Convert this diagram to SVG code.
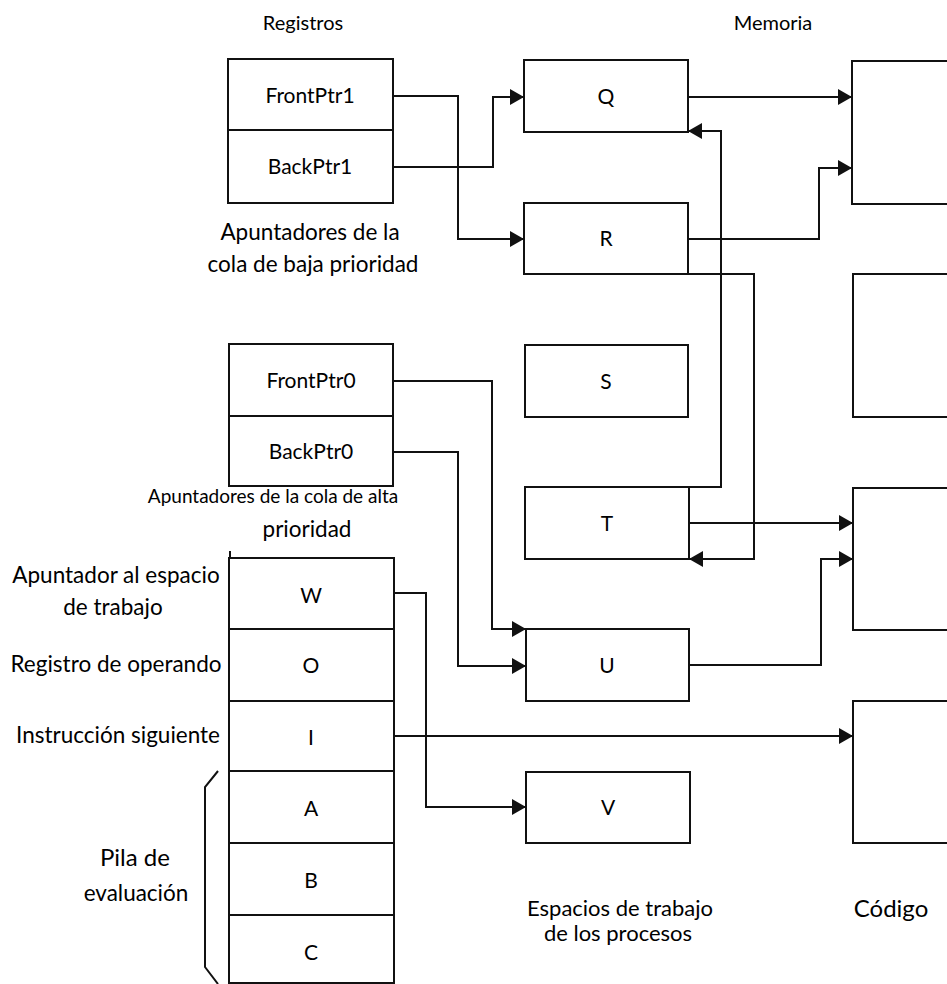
<svg xmlns="http://www.w3.org/2000/svg" width="947" height="984" viewBox="0 0 947 984">
  <style>
    .box { fill: #ffffff; stroke: #111111; stroke-width: 2; }
    .sep { stroke: #111111; stroke-width: 2; fill: none; }
    .wire { stroke: #111111; stroke-width: 2; fill: none; }
    .title { font-family: Lato, "Liberation Sans", sans-serif; font-size: 20px; fill: #000000; text-anchor: middle; }
    .lbl { font-family: Lato, "Liberation Sans", sans-serif; font-size: 22.5px; fill: #000000; text-anchor: middle; }
    .cell { font-family: Lato, "Liberation Sans", sans-serif; font-size: 21px; fill: #000000; text-anchor: middle; }
  </style>
  <defs>
    <marker id="arrow" viewBox="0 0 14 16" refX="14" refY="8" markerWidth="14" markerHeight="16" markerUnits="userSpaceOnUse" orient="auto">
      <path d="M0,0 L14,8 L0,16 Z" fill="#111111"/>
    </marker>
  </defs>

  <rect width="947" height="984" fill="#ffffff"/>

  <!-- column titles -->
  <text class="title" x="303" y="30">Registros</text>
  <text class="title" x="773" y="30">Memoria</text>

  <!-- low-priority queue pointer registers -->
  <g id="reg-low">
    <rect class="box" x="228" y="59" width="165" height="144"/>
    <line class="sep" x1="228" y1="130" x2="393" y2="130"/>
    <text class="cell" x="310" y="103">FrontPtr1</text>
    <text class="cell" x="310" y="174">BackPtr1</text>
    <text class="lbl" x="310" y="240">Apuntadores de la</text>
    <text class="lbl" x="313" y="272">cola de baja prioridad</text>
  </g>

  <!-- high-priority queue pointer registers -->
  <g id="reg-high">
    <rect class="box" x="229" y="344" width="164" height="142"/>
    <line class="sep" x1="229" y1="416" x2="393" y2="416"/>
    <text class="cell" x="311" y="388">FrontPtr0</text>
    <text class="cell" x="311" y="459">BackPtr0</text>
    <text class="lbl" x="273" y="503" style="font-size:19px">Apuntadores de la cola de alta</text>
    <text class="lbl" x="307" y="537">prioridad</text>
  </g>

  <!-- process registers and evaluation stack -->
  <g id="reg-process">
    <line class="sep" x1="230" y1="551" x2="230" y2="558"/>
    <rect class="box" x="229" y="558" width="165" height="425"/>
    <line class="sep" x1="229" y1="629" x2="394" y2="629"/>
    <line class="sep" x1="229" y1="701" x2="394" y2="701"/>
    <line class="sep" x1="229" y1="771" x2="394" y2="771"/>
    <line class="sep" x1="229" y1="843" x2="394" y2="843"/>
    <line class="sep" x1="229" y1="915" x2="394" y2="915"/>
    <text class="cell" x="311" y="603">W</text>
    <text class="cell" x="311" y="673">O</text>
    <text class="cell" x="311" y="745">I</text>
    <text class="cell" x="311" y="816">A</text>
    <text class="cell" x="311" y="888">B</text>
    <text class="cell" x="311" y="960">C</text>
    <text class="lbl" x="116" y="583">Apuntador al espacio</text>
    <text class="lbl" x="113" y="615">de trabajo</text>
    <text class="lbl" x="116" y="672">Registro de operando</text>
    <text class="lbl" x="118" y="743">Instrucción siguiente</text>
    <path class="sep" d="M218,771 L205,787 V967 L218,984"/>
    <text class="lbl" x="135" y="866" style="font-size:24px">Pila de</text>
    <text class="lbl" x="136" y="901">evaluación</text>
  </g>

  <!-- process workspaces -->
  <g id="ws-Q"><rect class="box" x="524" y="60" width="164" height="72"/><text class="cell" x="606" y="104">Q</text></g>
  <g id="ws-R"><rect class="box" x="524" y="203" width="164" height="71"/><text class="cell" x="606" y="246">R</text></g>
  <g id="ws-S"><rect class="box" x="525" y="345" width="163" height="72"/><text class="cell" x="606" y="389">S</text></g>
  <g id="ws-T"><rect class="box" x="525" y="487" width="164" height="72"/><text class="cell" x="607" y="531">T</text></g>
  <g id="ws-U"><rect class="box" x="526" y="629" width="163" height="72"/><text class="cell" x="607" y="673">U</text></g>
  <g id="ws-V"><rect class="box" x="526" y="772" width="164" height="71"/><text class="cell" x="608" y="815">V</text></g>
  <text class="lbl" x="620" y="916" style="font-size:22px">Espacios de trabajo</text>
  <text class="lbl" x="618" y="941" style="font-size:22px">de los procesos</text>

  <!-- code segments -->
  <g id="code-1"><rect class="box" x="852" y="61" width="110" height="143"/></g>
  <g id="code-2"><rect class="box" x="853" y="274" width="110" height="143"/></g>
  <g id="code-3"><rect class="box" x="853" y="488" width="110" height="142"/></g>
  <g id="code-4"><rect class="box" x="853" y="701" width="110" height="142"/></g>
  <text class="lbl" x="891" y="917" style="font-size:24px">Código</text>

  <!-- pointer links -->
  <g id="connectors">
    <path class="wire" d="M393,96 H458 V239 H524" marker-end="url(#arrow)"/>
    <path class="wire" d="M393,167 H493 V97 H524" marker-end="url(#arrow)"/>
    <path class="wire" d="M688,97 H852" marker-end="url(#arrow)"/>
    <path class="wire" d="M688,239 H819 V168 H852" marker-end="url(#arrow)"/>
    <path class="wire" d="M688,274 H754 V559 H689" marker-end="url(#arrow)"/>
    <path class="wire" d="M689,487 H721 V131 H688" marker-end="url(#arrow)"/>
    <path class="wire" d="M689,523 H853" marker-end="url(#arrow)"/>
    <path class="wire" d="M689,665 H821 V559 H853" marker-end="url(#arrow)"/>
    <path class="wire" d="M393,381 H492 V629 H526" marker-end="url(#arrow)"/>
    <path class="wire" d="M393,452 H458 V666 H526" marker-end="url(#arrow)"/>
    <path class="wire" d="M394,593 H426 V807 H526" marker-end="url(#arrow)"/>
    <path class="wire" d="M394,736 H853" marker-end="url(#arrow)"/>
  </g>
</svg>
